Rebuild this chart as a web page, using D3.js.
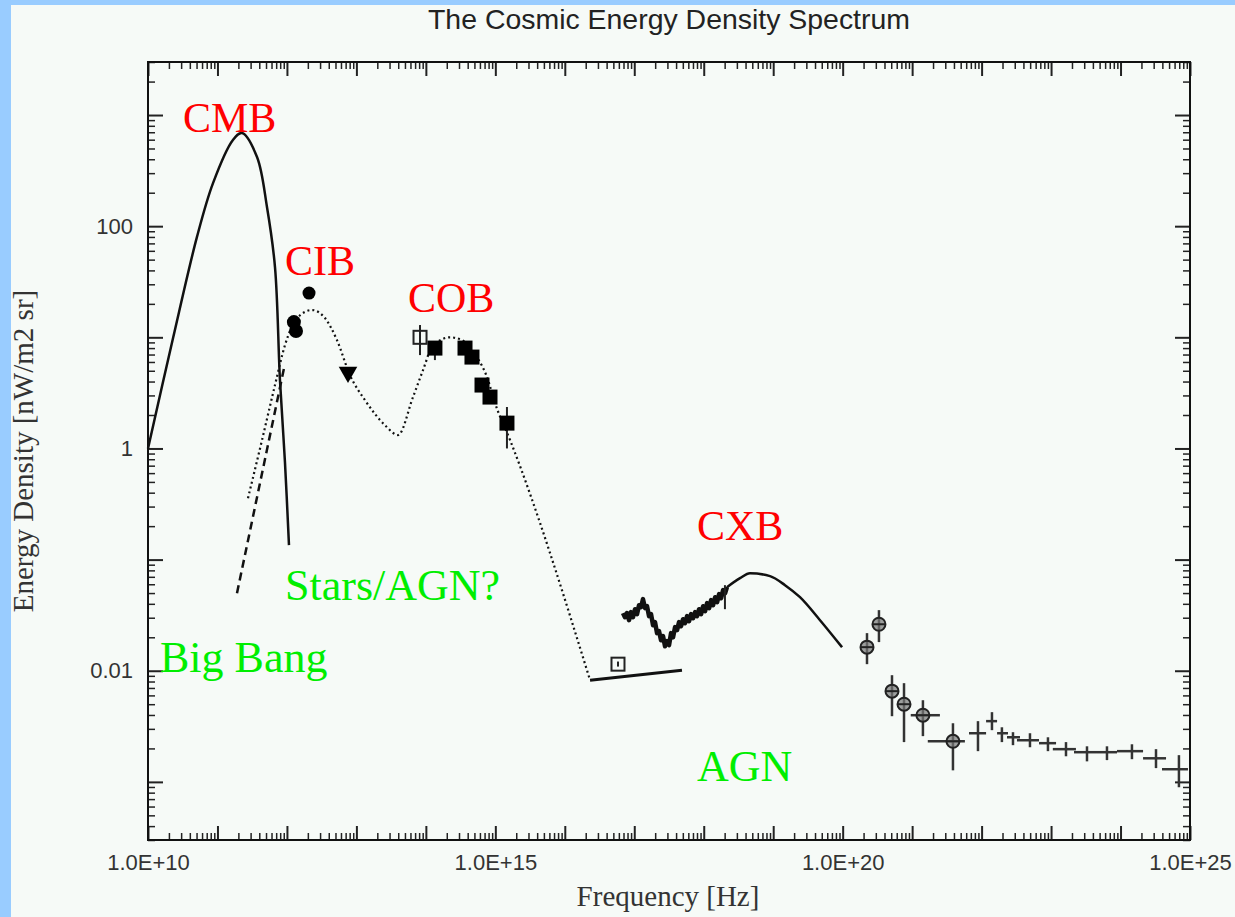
<!DOCTYPE html>
<html lang="en">
<head>
<meta charset="UTF-8">
<title>The Cosmic Energy Density Spectrum</title>
<script src="https://d3js.org/d3.v7.min.js"></script>
<style>
    body { margin: 0; background: #99ccff; }
    svg { display: block; }
</style>
</head>
<body>
<svg></svg>
<script>
// ---- data (frequency in Hz, energy density in nW/m2 sr) ----
const cmbCurve = [[1e10, 1.0], [2.29e10, 9.8], [5.07e10, 80], [8.63e10, 244],
    [1.67e11, 596], [2.25e11, 689], [3.71e11, 419], [5.16e11, 149], [6.73e11, 42.9],
    [7.94e11, 4.1], [9.37e11, 0.75], [1.07e12, 0.135]];

const bigBangLine = [[1.91e11, 0.0499], [9.08e11, 5.28]];

const starsModel = [[2.75e11, 0.357], [4.38e11, 1.19], [6.73e11, 3.72], [9.37e11, 8.5], [1.40e12, 14.9],
    [2.30e12, 17.6], [3.53e12, 14.9], [5.25e12, 9.44], [8.07e12, 4.57], [1.33e13, 2.72],
    [2.58e13, 1.62], [3.97e13, 1.32], [6.53e13, 2.90], [9.10e13, 5.07], [1.23e14, 8.16],
    [2.22e14, 10.0], [3.31e14, 9.44], [5.44e14, 6.64], [7.59e14, 4.39], [9.89e14, 2.56],
    [1.63e15, 1.19], [2.31e16, 0.00822]];

const uvLine = [[2.31e16, 0.00822], [4.86e17, 0.0101]];

const cxbData = [[6.88e16, 0.0330], [7.35e16, 0.0303], [7.86e16, 0.0330], [8.40e16, 0.0285], [8.97e16, 0.0337],
    [9.59e16, 0.0303], [1.025e17, 0.0358], [1.095e17, 0.0323], [1.170e17, 0.0389], [1.250e17, 0.0373],
    [1.336e17, 0.0441], [1.428e17, 0.0366], [1.526e17, 0.0381], [1.631e17, 0.0310], [1.743e17, 0.0323],
    [1.862e17, 0.0257], [1.990e17, 0.0274], [2.127e17, 0.0218], [2.273e17, 0.0227], [2.429e17, 0.0188],
    [2.595e17, 0.0205], [2.773e17, 0.0166], [2.964e17, 0.0185], [3.167e17, 0.0170], [3.385e17, 0.0218],
    [3.617e17, 0.0200], [3.865e17, 0.0247], [4.130e17, 0.0232], [4.414e17, 0.0274], [4.716e17, 0.0252],
    [5.040e17, 0.0291], [5.386e17, 0.0268], [5.756e17, 0.0310], [6.151e17, 0.0279], [6.573e17, 0.0323],
    [7.024e17, 0.0297], [7.506e17, 0.0337], [8.021e17, 0.0310], [8.571e17, 0.0358], [9.160e17, 0.0323],
    [9.788e17, 0.0381], [1.046e18, 0.0344], [1.118e18, 0.0406], [1.195e18, 0.0366], [1.277e18, 0.0432],
    [1.364e18, 0.0389], [1.458e18, 0.0459], [1.558e18, 0.0414], [1.665e18, 0.0489], [1.779e18, 0.0450],
    [1.901e18, 0.0531], [2.032e18, 0.0499], [2.16e18, 0.0565]];

const cxbModel = [[2.16e18, 0.0565], [3.33e18, 0.0681], [4.63e18, 0.0755], [9.0e18, 0.071],
    [1.48e19, 0.0589], [2.43e19, 0.0459], [4.72e19, 0.0285], [9.78e19, 0.0163]];

// CIB points
const cibCircles = [[1.26e12, 13.7], [1.35e12, 11.4]];
const cibDot = [[2.08e12, 25.0]];
const cibTriangles = [[7.57e12, 4.86]];

// COB points: [nu, E, errHigh, errLow]
const cobOpen = [[8.24e13, 10.0, 12.9, 6.92], [5.83e16, 0.01146, 0.0121, 0.0109]];
const cobFilled = [[1.35e14, 8.0, 8.0, 6.24], [3.66e14, 8.0, 8.0, 8.0], [4.61e14, 6.64, 6.64, 6.64],
    [6.43e14, 3.72, 3.72, 3.72], [8.38e14, 2.90, 2.90, 2.90], [1.47e15, 1.69, 2.36, 1.0]];
const cxbErr = [[2.02e18, 0.0509, 0.0589, 0.0358]];

// gamma-ray circles: [nu, E, nuLow, nuHigh, eHigh, eLow]
const gammaCircles = [[2.24e20, 0.0163, 2.24e20, 2.24e20, 0.0218, 0.01146],
    [3.33e20, 0.0262, 3.33e20, 3.33e20, 0.0351, 0.0181],
    [5.13e20, 0.00655, 5.13e20, 5.13e20, 0.00912, 0.0039],
    [7.64e20, 0.0050, 7.64e20, 7.64e20, 0.00773, 0.00228],
    [1.43e21, 0.00398, 9.55e20, 2.51e21, 0.00543, 0.00258],
    [3.87e21, 0.00232, 1.68e21, 5.75e21, 0.00337, 0.00127]];

// EGRET crosses: [nu, E, nuLow, nuHigh, eHigh, eLow]
const egretCrosses = [[8.87e21, 0.00274, 6.58e21, 1.16e22, 0.00352, 0.00189],
    [1.41e22, 0.00352, 1.16e22, 1.67e22, 0.00424, 0.00292],
    [1.96e22, 0.00274, 1.67e22, 2.40e22, 0.00310, 0.00228],
    [2.83e22, 0.00252, 2.32e22, 3.57e22, 0.00280, 0.00214],
    [4.97e22, 0.00237, 3.23e22, 6.70e22, 0.00274, 0.00205],
    [9.02e22, 0.00223, 6.70e22, 1.18e23, 0.00252, 0.00189],
    [1.64e23, 0.00197, 1.06e23, 2.28e23, 0.00228, 0.00170],
    [3.29e23, 0.00185, 2.14e23, 4.58e23, 0.00209, 0.00153],
    [6.38e23, 0.00185, 4.58e23, 8.89e23, 0.00209, 0.00157],
    [1.46e24, 0.00189, 8.89e23, 2.11e24, 0.00218, 0.00160],
    [3.24e24, 0.00163, 2.11e24, 4.52e24, 0.00197, 0.00133],
    [6.93e24, 0.00130, 3.95e24, 9.35e24, 0.00174, 0.000895]];

const redLabels = [["CMB", 3.19e10, 703], ["CIB", 9.38e11, 36.3], ["COB", 5.53e13, 16.9], ["CXB", 8.0e17, 0.15]];
const greenLabels = [["Stars/AGN?", 9.38e11, 0.0432], ["Big Bang", 1.49e10, 0.0097], ["AGN", 8.0e17, 0.00101]];

const xTickValues = [1e10, 1e15, 1e20, 1e25];
const xTickLabels = ["1.0E+10", "1.0E+15", "1.0E+20", "1.0E+25"];
const yTickValues = [100, 1, 0.01];
const yTickLabels = ["100", "1", "0.01"];

// ---- layout ----
const width = 1235, height = 917;
const plotLeft = 148, plotRight = 1190, plotTop = 62, plotBottom = 840;

const svg = d3.select("svg").attr("width", width).attr("height", height);
svg.append("rect").attr("x", 11).attr("y", 5).attr("width", width - 11).attr("height", height - 5)
    .attr("fill", "#f6faf7");

const x = d3.scaleLog().domain([1e10, 1e25]).range([plotLeft, plotRight]);
const y = d3.scaleLog().domain([3e-4, 3e3]).range([plotBottom, plotTop]);

// ticks
const xMajor = d3.range(10, 26).map(e => Math.pow(10, e));
const xMinor = d3.range(10, 25).flatMap(e => d3.range(2, 10).map(m => m * Math.pow(10, e)));
const yMajor = d3.range(-3, 4).map(e => Math.pow(10, e));
const yMinor = d3.range(-4, 4).flatMap(e => d3.range(2, 10).map(m => m * Math.pow(10, e)))
    .filter(v => v >= 3e-4 && v <= 3e3);

function tickAxis(axis, vals, size, tr, w) {
    const g = svg.append("g").attr("transform", tr)
        .call(axis.tickValues(vals).tickSizeInner(-size).tickSizeOuter(0).tickFormat(""));
    g.select(".domain").remove();
    g.selectAll("line").attr("stroke", "#222").attr("stroke-width", w);
}
tickAxis(d3.axisBottom(x), xMinor, 7, `translate(0,${plotBottom})`, 1.5);
tickAxis(d3.axisBottom(x), xMajor, 14, `translate(0,${plotBottom})`, 2);
tickAxis(d3.axisTop(x), xMinor, 7, `translate(0,${plotTop})`, 1.5);
tickAxis(d3.axisTop(x), xMajor, 14, `translate(0,${plotTop})`, 2);
tickAxis(d3.axisLeft(y), yMinor, 7, `translate(${plotLeft},0)`, 1.5);
tickAxis(d3.axisLeft(y), yMajor, 15, `translate(${plotLeft},0)`, 2);
tickAxis(d3.axisRight(y), yMinor, 7, `translate(${plotRight},0)`, 1.5);
tickAxis(d3.axisRight(y), yMajor, 15, `translate(${plotRight},0)`, 2);

// tick labels
const xLab = svg.append("g").attr("transform", `translate(0,${plotBottom})`)
    .call(d3.axisBottom(x).tickValues(xTickValues).tickSize(0).tickPadding(14)
        .tickFormat((d, i) => xTickLabels[i]));
const yLab = svg.append("g").attr("transform", `translate(${plotLeft},0)`)
    .call(d3.axisLeft(y).tickValues(yTickValues).tickSize(0).tickPadding(15)
        .tickFormat((d, i) => yTickLabels[i]));
[xLab, yLab].forEach(g => {
    g.select(".domain").remove();
    g.attr("font-family", "'Liberation Sans', Arial, sans-serif").attr("font-size", 22);
    g.selectAll("text").attr("fill", "#333");
});

// frame
svg.append("rect").attr("x", plotLeft).attr("y", plotTop)
    .attr("width", plotRight - plotLeft).attr("height", plotBottom - plotTop)
    .attr("fill", "none").attr("stroke", "#111").attr("stroke-width", 2);

// titles
svg.append("text").attr("x", 669).attr("y", 29).attr("text-anchor", "middle")
    .attr("textLength", 482).attr("lengthAdjust", "spacingAndGlyphs")
    .style("font-family", "'Liberation Sans', Arial, sans-serif").style("font-size", "28px")
    .attr("fill", "#222").text("The Cosmic Energy Density Spectrum");
svg.append("text").attr("x", 668).attr("y", 906).attr("text-anchor", "middle")
    .style("font-family", "'Liberation Serif', 'Times New Roman', serif").style("font-size", "29px")
    .attr("fill", "#333").text("Frequency [Hz]");
svg.append("text").attr("transform", "translate(33,451) rotate(-90)").attr("text-anchor", "middle")
    .style("font-family", "'Liberation Serif', 'Times New Roman', serif").style("font-size", "29px")
    .attr("fill", "#333").text("Energy Density [nW/m2 sr]");

// ---- lines ----
const smooth = d3.line().x(d => x(d[0])).y(d => y(d[1])).curve(d3.curveMonotoneX);
const rounded = d3.line().x(d => x(d[0])).y(d => y(d[1])).curve(d3.curveCatmullRom.alpha(0.5));
const straight = d3.line().x(d => x(d[0])).y(d => y(d[1]));

const plot = svg.append("g").attr("fill", "none").attr("stroke", "#111");
plot.append("path").attr("d", rounded(cmbCurve)).attr("stroke-width", 2.5);
plot.append("path").attr("d", straight(bigBangLine)).attr("stroke-width", 2.5).attr("stroke-dasharray", "8,5");
plot.append("path").attr("d", smooth(starsModel)).attr("stroke-width", 2.2).attr("stroke-dasharray", "2,3");
plot.append("path").attr("d", straight(uvLine)).attr("stroke-width", 3);
plot.append("path").attr("d", straight(cxbData)).attr("stroke-width", 4.5).attr("stroke-linejoin", "round");
plot.append("path").attr("d", smooth(cxbModel)).attr("stroke-width", 2.5);

// ---- error bars ----
const errs = svg.append("g").attr("stroke", "#222").attr("stroke-width", 2);
errs.selectAll(".ev").data(cobOpen.concat(cobFilled, cxbErr)).join("line")
    .attr("x1", d => x(d[0])).attr("x2", d => x(d[0]))
    .attr("y1", d => y(d[2])).attr("y2", d => y(d[3]));

// ---- markers ----
svg.append("g").selectAll("circle").data(cibCircles).join("circle")
    .attr("cx", d => x(d[0])).attr("cy", d => y(d[1])).attr("r", 7).attr("fill", "#000");
svg.append("g").selectAll("circle").data(cibDot).join("circle")
    .attr("cx", d => x(d[0])).attr("cy", d => y(d[1])).attr("r", 6.5).attr("fill", "#000");

svg.append("g").selectAll("path").data(cibTriangles).join("path")
    .attr("d", d3.symbol(d3.symbolTriangle, 150))
    .attr("transform", d => `translate(${x(d[0])},${y(d[1])}) rotate(180)`)
    .attr("fill", "#000");

svg.append("g").selectAll("rect").data(cobFilled).join("rect")
    .attr("x", d => x(d[0]) - 7.5).attr("y", d => y(d[1]) - 7.5)
    .attr("width", 15).attr("height", 15).attr("fill", "#000");

svg.append("g").selectAll("rect").data(cobOpen).join("rect")
    .attr("x", d => x(d[0]) - 6.5).attr("y", d => y(d[1]) - 6.5)
    .attr("width", 13).attr("height", 13)
    .attr("fill", "none").attr("stroke", "#222").attr("stroke-width", 2);

// gamma circles and crosses
const gam = svg.append("g").attr("stroke", "#333").attr("stroke-width", 2.5);
gam.selectAll(".v").data(gammaCircles.concat(egretCrosses)).join("line")
    .attr("x1", d => x(d[0])).attr("x2", d => x(d[0]))
    .attr("y1", d => y(d[4])).attr("y2", d => y(d[5]));
gam.selectAll(".h").data(gammaCircles.concat(egretCrosses)).join("line")
    .attr("x1", d => x(d[2])).attr("x2", d => x(d[3]))
    .attr("y1", d => y(d[1])).attr("y2", d => y(d[1]));
const gc = svg.append("g").selectAll("g").data(gammaCircles).join("g")
    .attr("transform", d => `translate(${x(d[0])},${y(d[1])})`);
gc.append("circle").attr("r", 6.5).attr("fill", "#777").attr("fill-opacity", 0.7)
    .attr("stroke", "#222").attr("stroke-width", 2);
gc.append("line").attr("x1", -6).attr("x2", 6).attr("stroke", "#222").attr("stroke-width", 2);

// ---- annotations ----
svg.append("g").selectAll("text").data(redLabels).join("text")
    .attr("x", d => x(d[1])).attr("y", d => y(d[2]))
    .style("font-family", "'Liberation Serif', 'Times New Roman', serif").style("font-size", "42px")
    .attr("fill", "#ff0000").text(d => d[0]);
svg.append("g").selectAll("text").data(greenLabels).join("text")
    .attr("x", d => x(d[1])).attr("y", d => y(d[2]))
    .style("font-family", "'Liberation Serif', 'Times New Roman', serif").style("font-size", "44px")
    .attr("fill", "#00ee00").text(d => d[0]);
</script>
</body>
</html>
